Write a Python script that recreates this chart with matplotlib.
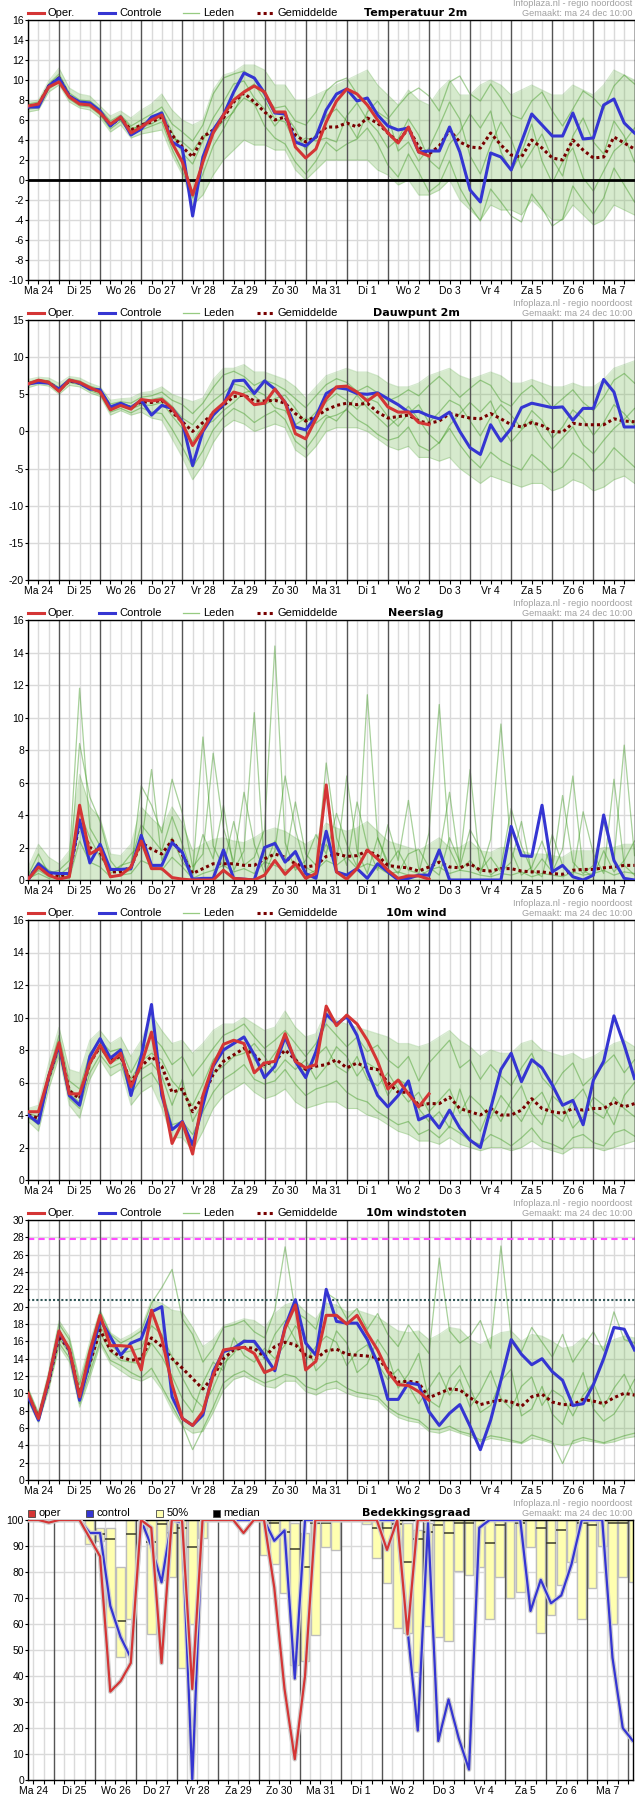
import matplotlib
matplotlib.use("Agg")
import matplotlib.pyplot as plt
from matplotlib.lines import Line2D
from matplotlib.patches import Rectangle
import matplotlib.patheffects as pe
import numpy as np

plt.rcParams['font.family'] = ['Liberation Sans', 'DejaVu Sans']

nan = np.nan
# 6-hourly steps, hours after Ma 24 00:00 (Ma 24 06:00 .. Di 8 00:00)
hours = np.arange(6, 361, 6)
cloud_hours = hours + 3
days = ["Ma 24", "Di 25", "Wo 26", "Do 27", "Vr 28", "Za 29", "Zo 30", "Ma 31",
        "Di 1", "Wo 2", "Do 3", "Vr 4", "Za 5", "Zo 6", "Ma 7"]

# ---- Temperatuur 2m
t_oper = [7.4, 7.6, 9.3, 9.8, 8.3, 7.6, 7.5, 6.7, 5.6, 6.3, 4.7, 5.3, 6.0, 6.5, 3.7, 1.8, -1.5, 1.8, 4.7, 6.5,
          8.0, 8.8, 9.4, 8.8, 6.8, 6.8, 3.3, 2.2, 3.1, 5.8, 7.9, 9.1, 8.6, 7.5, 6.0, 4.7, 3.7, 5.3, 2.8, 2.4]
t_ctrl = [7.3, 7.3, 9.4, 10.2, 8.4, 7.8, 7.7, 6.9, 5.4, 6.3, 4.5, 5.1, 6.3, 6.7, 3.8, 3.2, -3.6, 2.3, 5.0, 6.5,
          8.8, 10.7, 10.2, 8.7, 6.7, 6.6, 3.8, 3.4, 4.3, 7.0, 8.6, 9.1, 7.9, 8.2, 6.5, 5.4, 5.0, 5.2, 2.8, 2.9,
          2.9, 5.3, 2.8, -1.0, -2.2, 2.7, 2.3, 1.0, 3.8, 6.6, 5.5, 4.4, 4.4, 6.7, 4.1, 4.2, 7.5, 8.1, 5.7, 4.7]
t_mean = [7.3, 7.5, 9.4, 10.2, 8.4, 7.7, 7.6, 6.8, 5.5, 6.2, 5.0, 5.5, 5.8, 6.3, 4.5, 3.3, 2.3, 4.3, 5.0, 6.2,
          7.8, 8.7, 7.8, 6.8, 6.0, 6.3, 4.5, 3.8, 4.3, 5.3, 5.3, 5.7, 5.3, 6.2, 5.7, 4.7, 3.8, 5.2, 3.3, 2.6,
          3.4, 5.0, 3.8, 3.3, 3.2, 4.7, 3.5, 2.5, 2.3, 4.0, 3.2, 2.2, 2.0, 4.0, 3.0, 2.2, 2.3, 4.3, 3.7, 3.1]
t_lo = [6.8, 7.0, 8.8, 9.5, 7.8, 7.2, 7.0, 6.2, 4.8, 5.5, 4.2, 4.6, 4.8, 5.0, 2.5, 0.5, -2.5, -1.5, 0.5, 2.0,
        3.0, 4.0, 3.5, 3.5, 3.0, 3.0, 1.0, 0.0, 1.0, 2.0, 2.0, 2.0, 2.0, 2.0, 1.0, 0.5, -0.5, 0.0, -1.5, -1.5,
        -1.0, 0.0, -2.0, -3.0, -4.0, -2.5, -3.0, -3.0, -3.5, -2.0, -3.0, -4.0, -4.0, -2.5, -3.5, -4.5, -4.0, -2.5, -3.0, -3.5]
t_hi = [7.8, 8.0, 9.9, 11.2, 9.2, 8.6, 8.4, 7.4, 6.4, 6.9, 6.2, 7.0, 7.6, 8.6, 7.0, 6.0, 5.5, 6.0, 9.0, 10.5,
        10.8, 11.5, 11.5, 11.0, 9.5, 9.5, 8.0, 8.0, 8.5, 9.0, 9.5, 10.0, 10.5, 11.0, 9.5, 8.5, 7.5, 9.0, 8.0, 7.5,
        9.0, 10.0, 8.5, 8.5, 9.5, 10.0, 9.5, 8.5, 9.0, 9.5, 9.0, 8.5, 8.5, 9.5, 9.0, 8.5, 9.5, 11.0, 10.5, 10.0]
t_m1 = [7.6, 7.8, 9.6, 10.6, 8.7, 8.0, 7.9, 7.1, 5.9, 6.5, 5.4, 6.0, 6.6, 7.3, 5.6, 4.8, 3.9, 5.5, 8.6, 10.2,
        10.6, 10.9, 10.1, 8.4, 7.2, 7.4, 5.9, 5.5, 6.8, 8.9, 9.8, 10.2, 8.6, 7.4, 6.8, 6.1, 7.4, 8.6, 9.2, 8.4,
        6.9, 9.8, 10.4, 8.6, 7.9, 9.6, 8.2, 6.5, 6.1, 7.9, 8.8, 6.9, 5.4, 7.1, 8.9, 8.2, 7.1, 9.4, 10.5, 9.6]
t_m2 = [7.1, 7.2, 9.1, 9.8, 8.1, 7.4, 7.3, 6.5, 5.1, 5.9, 4.6, 5.0, 5.4, 5.8, 3.1, 0.9, -1.8, 0.6, 3.4, 5.1,
        7.0, 8.2, 7.6, 5.4, 4.2, 3.6, 1.8, 0.6, 1.9, 3.8, 2.9, 3.6, 4.1, 5.2, 3.6, 1.5, 0.3, 2.6, 0.8, -1.2,
        -0.4, 1.9, -0.8, -2.6, -4.1, -0.9, -2.2, -3.6, -4.2, -1.4, -2.8, -4.6, -3.9, -0.6, -2.1, -3.4, -1.8, 1.2, -0.5, -2.2]
t_m3 = [7.3, 7.5, 9.3, 10.1, 8.3, 7.8, 7.5, 6.8, 5.7, 6.0, 4.9, 5.6, 6.1, 6.9, 4.8, 2.7, 1.6, 3.9, 6.2, 7.8,
        9.6, 9.9, 8.2, 7.1, 5.4, 6.6, 5.1, 3.0, 4.6, 6.4, 7.1, 5.9, 4.2, 6.8, 7.9, 6.4, 2.9, 3.8, 1.9, 3.2,
        5.4, 7.8, 6.1, 2.4, 0.6, 3.5, 5.8, 4.1, 1.2, 2.9, 4.6, 2.1, 0.4, 4.4, 6.2, 3.8, 2.6, 5.9, 4.4, 1.8]
t_m4 = [7.4, 7.4, 9.5, 10.4, 8.5, 7.5, 7.6, 6.6, 5.3, 6.4, 5.2, 5.3, 5.6, 6.2, 4.2, 3.8, 2.9, 4.4, 4.6, 5.9,
        6.8, 8.9, 9.6, 8.0, 6.1, 5.8, 3.6, 4.2, 3.9, 4.2, 3.8, 6.4, 7.7, 6.0, 4.9, 3.2, 4.1, 6.1, 4.5, 2.0,
        1.1, 3.6, 4.8, 6.6, 5.2, 6.9, 2.8, 0.9, 2.7, 5.6, 1.9, -0.3, 1.8, 3.2, 0.2, -1.1, 0.9, 2.9, 3.8, 5.2]

# ---- Dauwpunt 2m
d_oper = [6.4, 6.9, 6.6, 5.4, 6.9, 6.6, 5.9, 5.3, 2.9, 3.5, 3.0, 4.3, 4.1, 4.3, 3.1, 1.1, -1.9, 0.2, 2.6, 3.8,
          5.3, 4.9, 3.6, 3.8, 5.7, 3.9, -0.3, -1.0, 1.7, 4.4, 6.0, 6.1, 5.3, 4.1, 5.1, 3.3, 2.6, 2.6, 1.2, 0.9]
d_ctrl = [6.4, 6.6, 6.5, 5.7, 6.9, 6.5, 5.7, 5.6, 3.3, 3.8, 3.2, 4.2, 2.2, 3.5, 3.1, 1.3, -4.6, 0.0, 2.2, 3.6,
          6.8, 6.9, 5.1, 6.8, 5.7, 3.9, 0.6, 0.2, 2.0, 5.1, 5.9, 5.7, 5.1, 5.0, 5.2, 4.4, 3.6, 2.6, 2.7, 2.1,
          1.7, 2.6, 0.0, -2.2, -3.1, 0.9, -1.3, 0.4, 3.2, 3.8, 3.5, 3.2, 3.3, 1.5, 3.1, 3.1, 7.0, 5.3, 0.6, 0.6]
d_mean = [6.4, 6.8, 6.6, 5.6, 6.8, 6.5, 5.8, 5.4, 3.3, 3.6, 3.2, 4.0, 3.9, 4.2, 2.6, 1.3, 0.0, 1.2, 2.4, 3.5,
          4.7, 4.9, 4.1, 4.1, 4.2, 3.8, 2.4, 1.4, 2.0, 2.9, 3.5, 3.8, 3.6, 3.8, 2.6, 1.8, 2.0, 2.2, 1.4, 1.1,
          1.4, 2.4, 2.1, 1.8, 1.7, 2.4, 1.7, 0.9, 0.6, 1.2, 0.8, 0.0, -0.1, 1.1, 0.9, 0.9, 0.9, 1.7, 1.4, 1.3]
d_lo = [5.9, 6.3, 6.1, 5.0, 6.2, 6.0, 5.2, 4.7, 2.2, 2.8, 2.2, 2.6, 1.8, 1.5, -1.0, -3.5, -6.5, -4.5, -1.5, 0.5,
        1.5, 1.0, 0.0, 0.5, 1.0, 0.5, -2.5, -3.5, -2.0, 0.0, 0.5, 0.5, 0.5, 0.0, -1.0, -2.0, -2.5, -2.0, -3.5, -3.5,
        -4.0, -3.5, -5.0, -6.0, -7.0, -6.0, -6.5, -7.0, -7.5, -7.0, -7.0, -8.0, -7.5, -6.5, -7.0, -8.0, -7.5, -6.5, -6.0, -7.0]
d_hi = [7.0, 7.3, 7.2, 6.5, 7.4, 7.2, 6.5, 6.0, 4.2, 4.4, 4.5, 5.2, 5.4, 6.0, 5.0, 4.5, 4.0, 4.5, 7.0, 8.5,
        8.5, 9.0, 8.0, 8.0, 7.5, 7.0, 6.0, 4.5, 6.0, 7.5, 8.0, 8.5, 8.0, 8.0, 7.5, 6.5, 6.0, 6.0, 6.5, 7.5,
        8.0, 8.5, 7.5, 7.0, 7.5, 8.0, 7.5, 6.5, 6.5, 7.0, 6.5, 6.0, 6.0, 6.5, 6.0, 6.0, 7.0, 8.5, 9.0, 9.5]
d_m1 = [6.6, 7.0, 6.8, 5.9, 7.1, 6.8, 6.1, 5.7, 3.7, 4.0, 3.8, 4.6, 4.8, 5.3, 4.2, 3.6, 2.4, 3.8, 5.9, 7.6,
        8.1, 7.4, 6.2, 6.9, 6.4, 5.6, 4.4, 3.2, 4.8, 6.3, 7.1, 6.6, 5.4, 6.1, 5.2, 4.1, 4.7, 5.6, 4.8, 6.2,
        7.4, 6.1, 4.6, 5.8, 6.9, 6.2, 4.1, 3.4, 5.1, 6.2, 4.8, 3.2, 4.4, 5.6, 3.9, 2.8, 4.6, 6.9, 7.8, 6.5]
d_m2 = [6.2, 6.6, 6.4, 5.3, 6.6, 6.3, 5.5, 5.0, 2.6, 3.1, 2.5, 3.2, 2.6, 2.4, 0.3, -2.1, -4.8, -2.6, 0.2, 1.9,
        3.1, 2.4, 1.2, 2.1, 2.8, 1.6, -1.3, -2.4, -0.5, 1.8, 2.2, 2.9, 1.6, 0.8, -0.4, -1.2, -0.8, 0.6, -1.9, -2.6,
        -1.5, 0.4, -1.8, -3.6, -4.9, -2.8, -3.9, -4.6, -5.2, -3.1, -4.2, -5.6, -4.8, -2.9, -3.8, -5.4, -4.1, -2.2, -3.5, -4.8]
d_m3 = [6.4, 6.8, 6.6, 5.6, 6.8, 6.6, 5.8, 5.4, 3.2, 3.7, 3.4, 4.1, 4.3, 4.6, 3.4, 1.8, 0.9, 2.7, 4.1, 5.2,
        6.4, 6.0, 4.8, 3.6, 4.4, 4.9, 3.1, 1.2, 2.6, 4.0, 5.1, 4.2, 3.0, 4.5, 3.9, 2.0, 0.7, 2.4, 3.6, 1.2,
        2.6, 4.2, 3.5, 1.4, -0.6, 1.9, 3.6, 2.2, 0.4, 2.8, 1.5, -0.9, 0.6, 2.9, 1.7, -0.5, 1.2, 3.6, 2.4, 0.8]
d_m4 = [6.5, 6.7, 6.5, 5.5, 6.9, 6.4, 5.8, 5.3, 3.4, 3.4, 3.0, 3.6, 3.5, 3.9, 2.1, 0.4, -1.4, 0.8, 1.4, 2.8,
        3.9, 5.2, 5.6, 4.9, 3.2, 2.8, 0.9, 1.8, 1.1, 2.2, 1.4, 3.1, 4.9, 3.2, 1.9, 0.6, 1.8, 3.4, 1.6, -0.4,
        -1.6, 0.8, 2.4, 3.9, 2.6, 4.1, 0.9, -1.4, 0.2, 1.6, -0.8, -2.4, -0.9, 0.6, -1.8, -3.0, -1.2, 0.4, 1.6, 3.1]

# ---- Neerslag
p_oper = [0.05, 0.8, 0.3, 0.05, 0.2, 4.6, 1.6, 1.95, 0.2, 0.3, 0.8, 2.4, 0.7, 0.7, 0.15, 0.05, 0.0, 0.0, 0.0, 0.6,
          0.1, 0.05, 0.0, 0.3, 1.2, 0.35, 1.0, 0.1, 0.4, 5.85, 0.5, 0.05, 0.7, 1.85, 1.3, 0.6, 0.1, 0.25, 0.25, 0.05]
p_ctrl = [0.0, 1.0, 0.45, 0.4, 0.4, 3.7, 1.05, 2.2, 0.65, 0.65, 0.7, 2.75, 0.9, 0.9, 2.3, 1.7, 0.05, 0.1, 0.1, 1.85,
          0.1, 0.05, 0.0, 2.0, 2.25, 1.1, 1.75, 0.4, 0.1, 3.0, 0.5, 0.3, 0.7, 0.1, 1.0, 0.5, 0.0, 0.1, 0.3, 0.3,
          1.85, 0.0, 0.0, 0.0, 0.0, 0.0, 0.0, 3.3, 1.5, 1.45, 4.6, 0.5, 0.9, 0.2, 0.0, 0.3, 4.0, 1.2, 0.1, 0.0]
p_mean = [0.1, 0.9, 0.4, 0.2, 0.4, 3.5, 2.0, 1.7, 0.5, 0.5, 0.8, 2.3, 1.9, 1.6, 2.45, 1.55, 0.4, 0.7, 1.0, 1.0,
          1.0, 0.9, 0.9, 1.3, 1.6, 1.4, 1.0, 0.8, 0.9, 1.45, 1.6, 1.45, 1.5, 1.8, 1.5, 0.9, 0.8, 0.75, 0.55, 0.8,
          1.1, 0.8, 0.75, 1.0, 0.6, 0.55, 0.7, 0.7, 0.55, 0.5, 0.5, 0.4, 0.35, 0.6, 0.65, 0.65, 0.75, 0.8, 0.9, 0.9]
p_lo = [0.0] * 60
p_hi = [0.8, 2.2, 1.4, 1.0, 1.8, 6.5, 4.5, 3.8, 1.6, 1.5, 2.2, 4.5, 3.8, 3.2, 4.5, 3.5, 1.8, 2.2, 2.5, 2.6,
        2.4, 2.3, 2.6, 3.0, 3.2, 3.0, 2.6, 2.2, 2.6, 3.5, 3.2, 3.0, 3.2, 3.6, 3.0, 2.4, 2.2, 2.0, 1.8, 2.2,
        2.6, 2.0, 2.0, 2.4, 1.8, 1.7, 2.0, 2.0, 1.8, 1.6, 1.6, 1.5, 1.4, 1.8, 1.8, 1.8, 2.0, 2.0, 2.2, 2.2]
p_m1 = [0.3, 1.6, 0.4, 0.6, 1.2, 11.8, 3.2, 2.1, 0.4, 0.9, 1.1, 3.4, 2.6, 1.8, 3.9, 2.2, 0.3, 8.8, 2.1, 0.8,
        3.6, 0.9, 1.4, 3.1, 14.4, 2.3, 0.6, 1.2, 2.8, 1.6, 4.1, 2.2, 0.8, 11.4, 2.6, 0.9, 1.8, 0.6, 0.4, 2.9,
        10.8, 1.9, 0.6, 1.2, 0.4, 2.5, 9.6, 1.8, 0.3, 0.8, 2.4, 0.6, 5.2, 1.1, 0.4, 0.9, 3.6, 1.2, 8.3, 1.5]
p_m2 = [0.0, 0.6, 0.2, 0.1, 0.3, 8.4, 5.1, 3.6, 1.2, 0.4, 0.6, 5.8, 4.6, 2.9, 6.2, 4.1, 0.8, 1.6, 7.8, 3.2,
        1.1, 5.4, 2.2, 0.4, 1.8, 6.4, 3.1, 0.8, 0.4, 7.2, 2.6, 0.9, 4.8, 2.1, 0.6, 3.4, 1.2, 4.9, 0.7, 0.2,
        1.6, 5.4, 0.8, 3.1, 1.9, 0.3, 0.8, 4.4, 2.1, 0.6, 0.2, 2.8, 0.9, 0.3, 4.2, 1.6, 0.4, 6.2, 0.9, 0.3]
p_m3 = [0.1, 0.4, 0.1, 0.2, 0.1, 2.4, 1.1, 0.8, 0.2, 0.3, 0.4, 1.2, 0.9, 0.6, 1.4, 0.8, 0.1, 0.4, 0.6, 0.9,
        0.5, 0.7, 0.4, 1.1, 0.9, 0.6, 0.8, 0.3, 0.6, 1.2, 0.9, 1.4, 0.7, 1.0, 0.8, 0.4, 0.5, 0.3, 0.2, 0.6,
        0.8, 0.4, 0.6, 0.5, 0.3, 0.2, 0.4, 0.3, 0.5, 0.2, 0.4, 0.3, 0.2, 0.5, 0.3, 0.4, 0.6, 0.3, 0.5, 0.4]
p_m4 = [0.2, 1.1, 0.6, 0.3, 0.8, 4.2, 2.6, 1.4, 0.6, 0.8, 1.6, 2.2, 6.8, 1.2, 2.6, 1.1, 0.4, 2.8, 1.3, 4.6,
        0.6, 1.8, 10.3, 0.8, 2.4, 1.2, 4.8, 1.6, 0.9, 2.2, 1.1, 6.4, 1.8, 0.4, 2.6, 1.1, 0.4, 1.6, 1.9, 0.8,
        0.3, 2.6, 1.1, 6.8, 0.6, 1.4, 0.5, 1.1, 3.6, 0.4, 1.3, 0.5, 1.9, 6.4, 0.6, 0.2, 1.8, 0.5, 1.2, 2.4]

# ---- 10m wind
w_oper = [4.2, 4.2, 6.4, 8.45, 5.3, 5.3, 7.2, 8.3, 7.2, 7.8, 5.75, 7.1, 9.1, 5.6, 2.25, 3.55, 1.6, 5.2, 7.1, 8.35,
          8.6, 8.4, 6.6, 7.2, 7.3, 9.0, 7.3, 6.9, 7.1, 10.7, 9.5, 10.15, 9.6, 8.6, 7.3, 5.6, 6.15, 5.3, 4.5, 5.3]
w_ctrl = [4.0, 3.5, 6.4, 8.3, 5.2, 4.6, 7.6, 8.7, 7.5, 8.0, 5.2, 7.6, 10.8, 5.2, 3.1, 3.6, 2.15, 4.6, 7.0, 8.0,
          8.4, 8.8, 7.7, 6.3, 7.0, 8.8, 7.3, 6.3, 7.9, 10.2, 9.6, 10.05, 8.9, 6.7, 5.2, 4.5, 5.2, 6.1, 3.7, 4.0,
          3.2, 4.3, 3.2, 2.45, 2.0, 4.4, 6.8, 7.8, 6.05, 7.4, 6.9, 5.85, 4.6, 4.9, 3.4, 6.15, 7.3, 10.1, 8.3, 6.25]
w_mean = [4.0, 3.8, 6.3, 8.3, 5.5, 5.0, 7.2, 8.2, 7.4, 7.6, 6.0, 7.0, 7.6, 7.0, 5.4, 5.6, 4.2, 5.1, 6.5, 7.3,
          7.7, 8.1, 7.7, 7.1, 7.3, 8.0, 7.4, 6.8, 7.0, 7.1, 7.4, 6.9, 7.2, 6.9, 6.8, 6.0, 5.4, 5.4, 4.6, 4.7,
          4.7, 5.1, 4.4, 4.2, 4.0, 4.4, 4.0, 4.0, 4.3, 5.0, 4.4, 4.2, 4.1, 4.4, 4.3, 4.4, 4.4, 4.8, 4.5, 4.7]
w_lo = [3.6, 3.0, 5.6, 7.6, 4.6, 3.8, 6.2, 7.4, 6.4, 6.8, 4.6, 5.4, 5.8, 4.4, 2.6, 2.6, 1.8, 3.0, 4.4, 5.2,
        5.6, 6.0, 5.4, 5.0, 5.2, 5.6, 4.8, 4.4, 4.6, 4.8, 4.8, 4.4, 4.4, 4.0, 3.8, 3.4, 3.0, 2.8, 2.4, 2.4,
        2.2, 2.6, 2.2, 2.0, 1.8, 2.0, 2.0, 1.8, 2.0, 2.4, 2.0, 1.8, 1.6, 2.0, 2.0, 2.0, 1.8, 2.0, 2.2, 2.4]
w_hi = [4.4, 4.6, 7.2, 9.4, 6.8, 6.6, 8.6, 9.2, 8.4, 8.8, 7.6, 8.6, 10.2, 9.2, 8.4, 8.6, 7.8, 8.4, 9.2, 9.6,
        9.6, 10.0, 9.6, 9.2, 9.4, 10.4, 9.4, 8.8, 9.0, 10.4, 9.8, 9.6, 9.4, 9.2, 9.0, 8.8, 8.4, 8.4, 8.2, 8.4,
        8.8, 9.2, 8.6, 8.2, 7.6, 8.0, 7.8, 7.8, 8.4, 8.6, 8.0, 7.8, 7.6, 7.8, 7.4, 7.6, 8.0, 8.4, 8.6, 8.2]
w_m1 = [4.1, 3.9, 6.6, 8.9, 6.1, 5.6, 7.8, 8.6, 7.9, 8.1, 6.6, 7.8, 8.9, 8.2, 7.1, 7.6, 6.4, 7.2, 8.1, 8.9,
        9.2, 9.6, 8.8, 8.1, 8.6, 9.2, 8.4, 7.6, 8.4, 9.6, 8.9, 8.2, 8.8, 7.9, 8.3, 7.4, 6.9, 7.6, 6.1, 7.2,
        7.9, 8.6, 6.9, 7.4, 6.2, 7.1, 6.4, 5.8, 6.9, 7.8, 6.3, 5.6, 6.6, 7.2, 5.8, 6.4, 7.1, 7.7, 6.6, 7.4]
w_m2 = [3.9, 3.4, 6.0, 7.9, 5.0, 4.4, 6.6, 7.7, 6.9, 7.2, 5.3, 6.2, 6.6, 5.6, 3.4, 3.6, 2.8, 4.2, 5.4, 6.2,
        6.6, 7.1, 6.2, 5.9, 6.1, 6.8, 5.9, 5.2, 5.6, 5.8, 6.1, 5.4, 5.0, 4.8, 4.2, 3.8, 3.4, 3.6, 2.8, 3.1,
        2.6, 3.3, 2.9, 2.4, 2.2, 2.8, 2.5, 2.1, 2.6, 3.2, 2.4, 2.2, 1.9, 2.6, 2.8, 2.3, 2.1, 2.9, 3.1, 2.7]
w_m3 = [4.0, 3.7, 6.2, 8.2, 5.6, 5.1, 7.4, 8.1, 7.2, 7.5, 6.2, 7.3, 7.8, 7.4, 6.1, 5.4, 4.6, 5.9, 7.4, 8.0,
        8.4, 8.8, 7.4, 6.9, 7.8, 8.6, 7.6, 6.4, 7.6, 8.2, 7.0, 6.6, 7.6, 6.2, 5.8, 6.6, 5.6, 4.8, 5.4, 4.2,
        4.9, 5.6, 4.1, 5.2, 4.6, 3.8, 5.2, 4.4, 3.6, 4.8, 5.4, 4.1, 3.6, 4.9, 5.6, 4.2, 3.8, 5.1, 4.4, 3.9]
w_m4 = [3.8, 3.6, 6.4, 8.6, 5.3, 4.8, 7.0, 8.4, 7.6, 7.9, 5.8, 6.8, 7.2, 6.4, 4.6, 6.2, 3.6, 4.8, 6.6, 7.0,
        7.6, 7.8, 8.4, 7.6, 6.6, 7.4, 6.8, 7.4, 6.2, 7.0, 8.2, 7.6, 6.4, 7.2, 6.8, 5.2, 6.2, 5.8, 4.4, 3.6,
        4.2, 3.2, 5.6, 3.8, 3.0, 4.6, 3.6, 4.9, 5.8, 4.1, 3.4, 5.2, 4.6, 3.2, 3.9, 5.1, 4.6, 3.4, 5.2, 6.0]

# ---- 10m windstoten
g_oper = [10.0, 7.1, 11.7, 17.2, 15.1, 9.6, 14.8, 19.0, 15.5, 15.5, 15.4, 12.7, 19.6, 16.3, 11.0, 7.1, 6.3, 7.9, 12.1, 15.0,
          15.2, 15.3, 14.6, 12.4, 12.9, 17.5, 20.2, 12.7, 13.7, 19.0, 19.0, 18.0, 19.0, 16.9, 15.0, 12.5, 11.0, 10.9, 10.2, 9.2]
g_ctrl = [9.6, 6.9, 11.5, 17.1, 15.0, 9.2, 13.8, 18.5, 16.5, 14.4, 15.8, 16.3, 19.4, 20.0, 9.6, 7.1, 6.3, 7.5, 12.5, 14.8,
          15.2, 16.0, 16.0, 14.4, 12.6, 17.7, 20.8, 15.8, 14.4, 22.0, 18.3, 18.1, 18.1, 16.2, 13.5, 9.3, 9.3, 11.2, 11.0, 7.9,
          6.3, 7.7, 8.7, 6.2, 3.5, 6.9, 11.5, 16.2, 14.5, 13.3, 14.0, 12.5, 11.5, 8.6, 8.8, 11.0, 14.0, 17.6, 17.4, 15.0]
g_mean = [9.8, 7.2, 11.3, 16.6, 15.0, 9.8, 13.5, 17.3, 15.0, 14.2, 13.8, 14.0, 16.4, 15.4, 14.0, 12.9, 11.7, 10.5, 11.9, 14.0,
          15.0, 15.3, 15.2, 14.2, 15.4, 15.9, 15.6, 14.4, 14.0, 14.9, 15.1, 14.5, 14.4, 14.3, 14.1, 12.7, 11.3, 11.4, 11.2, 9.5,
          10.0, 10.5, 10.4, 9.5, 8.7, 9.0, 9.2, 9.0, 8.5, 9.6, 9.9, 9.0, 8.7, 8.7, 9.3, 9.1, 8.8, 9.5, 10.0, 9.8]
g_lo = [9.0, 6.6, 10.4, 15.4, 13.6, 8.4, 11.8, 15.6, 13.4, 12.6, 11.8, 11.4, 12.0, 10.4, 8.0, 6.2, 5.4, 5.6, 7.8, 10.4,
        11.6, 12.0, 11.4, 10.8, 10.6, 11.4, 11.4, 10.2, 9.8, 10.4, 10.6, 10.0, 9.6, 9.4, 9.2, 8.0, 7.2, 6.8, 6.6, 5.6,
        5.4, 5.8, 5.4, 5.0, 4.4, 4.8, 4.6, 4.4, 4.2, 4.8, 4.6, 4.2, 4.0, 4.2, 4.6, 4.4, 4.2, 4.4, 4.8, 5.0]
g_hi = [10.6, 7.8, 12.6, 18.4, 16.6, 11.6, 16.0, 19.6, 17.0, 16.2, 16.8, 17.6, 20.8, 20.4, 19.6, 19.4, 17.6, 15.4, 16.2, 17.8,
        18.2, 18.6, 18.4, 17.6, 19.2, 20.2, 20.6, 19.4, 18.6, 20.4, 20.2, 19.4, 19.6, 19.2, 18.8, 18.0, 17.2, 17.0, 17.2, 16.2,
        16.8, 17.6, 17.4, 16.2, 15.6, 16.4, 17.0, 17.2, 16.0, 16.8, 16.6, 16.0, 15.2, 15.4, 16.4, 15.6, 15.4, 16.2, 16.6, 16.4]
g_m1 = [10.4, 7.6, 12.2, 18.0, 16.2, 11.0, 15.4, 19.4, 16.8, 15.8, 16.4, 17.2, 20.4, 22.2, 24.3, 18.6, 16.8, 13.6, 15.2, 17.6,
        17.9, 18.4, 17.1, 16.4, 19.6, 26.9, 19.4, 18.6, 17.4, 21.6, 20.8, 18.6, 19.8, 17.4, 19.2, 16.8, 15.4, 17.9, 16.2, 14.6,
        25.6, 17.2, 15.8, 16.6, 18.4, 15.2, 27.0, 16.4, 14.8, 17.6, 15.9, 14.2, 16.8, 13.6, 15.4, 17.1, 14.9, 19.4, 16.2, 15.8]
g_m2 = [9.3, 6.8, 10.8, 15.8, 14.1, 8.8, 12.4, 16.0, 13.8, 13.2, 12.4, 11.8, 12.9, 10.8, 8.6, 6.4, 3.5, 5.9, 8.4, 11.2,
        12.1, 12.6, 11.8, 11.2, 11.6, 12.2, 11.9, 10.8, 10.4, 11.1, 11.4, 10.6, 10.1, 9.9, 9.6, 8.4, 7.6, 7.2, 6.9, 5.9,
        5.8, 6.2, 5.6, 5.3, 4.6, 5.1, 4.9, 4.6, 4.3, 5.2, 4.8, 4.4, 1.9, 4.5, 4.9, 4.6, 4.3, 4.7, 5.1, 5.4]
g_m3 = [9.8, 7.3, 11.6, 16.9, 15.4, 10.2, 14.2, 17.8, 15.6, 14.6, 14.9, 15.2, 17.8, 16.8, 14.2, 11.8, 9.6, 8.4, 10.6, 13.4,
        14.6, 16.2, 15.8, 13.9, 16.8, 18.4, 16.2, 13.8, 15.4, 16.6, 15.9, 13.2, 14.8, 15.6, 13.4, 11.6, 12.8, 10.9, 8.8, 10.6,
        12.4, 9.8, 11.6, 8.4, 10.2, 12.6, 9.4, 8.2, 10.8, 11.9, 8.6, 10.4, 9.6, 7.4, 9.8, 11.2, 8.4, 10.6, 12.2, 9.6]
g_m4 = [10.1, 7.0, 11.2, 16.4, 14.6, 9.6, 13.0, 17.0, 14.8, 13.8, 13.6, 13.4, 15.8, 14.2, 12.0, 9.4, 7.8, 11.2, 13.6, 12.6,
        16.4, 14.4, 13.6, 15.2, 14.0, 15.6, 17.8, 16.4, 12.6, 13.8, 17.2, 15.8, 12.4, 13.4, 16.2, 14.4, 10.6, 12.2, 14.6, 9.2,
        8.4, 11.8, 13.2, 10.6, 7.8, 8.6, 11.4, 12.8, 7.4, 8.2, 10.8, 7.6, 6.4, 9.8, 12.4, 8.2, 6.8, 7.6, 9.4, 11.6]
gust_warn = 27.8
gust_ref = 20.8

# ---- Bedekkingsgraad (%)
c_oper = [100, 100, 99, 100, 100, 100, 93, 86, 34, 38, 45, 100, 97, 45, 100, 100, 35, 100, 100, 100,
          100, 95, 100, 100, 74, 35, 8, 40, 100, 100, 100, 100, 100, 100, 100, 88.5, 100, 56, 100, 100]
c_ctrl = [100, 100, 100, 100, 100, 100, 95, 95, 67, 55, 47, 100, 90, 76, 100, 99, 0, 100, 100, 100,
          100, 100, 100, 100, 92, 96, 39, 100, 100, 100, 100, 100, 100, 100, 100, 100, 100, 58, 19, 99,
          15, 31, 16, 4, 97, 100, 100, 100, 100, 65, 77, 68, 71, 83, 100, 100, 100, 47, 20, 15]
c_q25 = [100, 100, 100, 100, 100, 100, 90.6, 92, 58.7, 47.4, 61.8, 100, 56, 77, 78, 43, 60, 93, 100, 100,
         100, 100, 100, 86.4, 83, 71.8, 44.2, 45.9, 55.8, 89.5, 88.5, 100, 100, 98.5, 85.3, 75.6, 58.3, 56.7, 41.7, 59.2,
         55.1, 53.5, 80.4, 78.8, 81.8, 61.9, 77.9, 69.9, 72.2, 89.5, 56.4, 63.5, 75, 83.7, 61.9, 73.7, 90, 60, 77.9, 76.3]
c_q75 = [100, 100, 100, 100, 100, 100, 100, 97, 97, 82, 100, 100, 100, 100, 100, 100, 100, 100, 100, 100,
         100, 100, 100, 100, 100, 100, 99, 95, 99, 100, 100, 100, 100, 100, 100, 100, 100, 99, 96, 99,
         100, 100, 100, 100, 100, 100, 100, 100, 100, 100, 100, 100, 100, 100, 100, 100, 100, 100, 100, 100]
c_med = [nan, nan, nan, nan, nan, nan, nan, 94.5, 92.6, 61, 94.5, nan, 91.4, 98.3, 94.9, 96.8, 89.5, nan, nan, nan,
         nan, nan, nan, nan, 98.7, 95.3, 88.7, 81.8, 98.7, 98.7, nan, nan, nan, nan, 96.8, 96.8, 98.3, 84, 92.6, 95.3,
         98, 94.9, 99, 99, nan, 91, 98, nan, 99, nan, 96.8, 91, 96.2, nan, 99, 98, nan, 99, 99, nan]

W, H = 635.0, 1800.0
fig = plt.figure(figsize=(6.35, 18), dpi=100)

RED = '#d43535'
BLUE = '#3535d2'
GREEN = '#3f9a22'
MEAN = '#780000'
GRID = '#dadada'


def fx(x):
    return x / W


def fy(y):
    return 1 - y / H


def header(top, title):
    fig.text(fx(416), fy(top - 7), title, ha='center', va='center',
             fontsize=8, fontweight='bold', family='DejaVu Sans')
    fig.text(fx(632), fy(top - 16), 'Infoplaza.nl - regio noordoost',
             ha='right', va='center', fontsize=6.6, color='#a0a0a0')
    fig.text(fx(632), fy(top - 7), 'Gemaakt: ma 24 dec 10:00',
             ha='right', va='center', fontsize=6.6, color='#a0a0a0')


def line_legend(top):
    y = fy(top - 7)
    items = [(28, RED, '-', 2.2, 1.0, 'Oper.'),
             (99, BLUE, '-', 2.2, 1.0, 'Controle'),
             (183, '#7cbf62', '-', 0.9, 0.8, 'Leden'),
             (257, MEAN, (0, (1, 1)), 2.2, 1.0, 'Gemiddelde')]
    for x0, c, ls, lw, a, lab in items:
        fig.add_artist(Line2D([fx(x0), fx(x0 + 16)], [y, y], color=c, ls=ls, lw=lw, alpha=a))
        fig.text(fx(x0 + 20), y, lab, ha='left', va='center', fontsize=8)


def make_axes(top, xmin, xmax, ymin, ymax, ystep, left=28.2, right=634.5):
    ax = fig.add_axes([fx(left), fy(top + 260), (right - left) / W, 260 / H])
    ax.set_xlim(xmin, xmax)
    ax.set_ylim(ymin, ymax)
    yt = np.arange(ymin, ymax + 0.01, ystep)
    ax.set_yticks(yt)
    ax.set_yticklabels(['%g' % v for v in yt])
    for v in yt:
        ax.axhline(v, color=GRID, lw=1, zorder=0)
    ticks = [h for h in range(0, 372, 6) if xmin - 0.01 <= h <= xmax + 0.01]
    for h in ticks:
        if h % 24 == 0:
            ax.axvline(h, color='#555555', lw=1, zorder=1.5)
        else:
            ax.axvline(h, color=GRID, lw=1, zorder=0)
    ax.set_xticks(ticks)
    ax.set_xticklabels([days[(h - 12) // 24] if h % 24 == 12 else '' for h in ticks])
    ax.tick_params(axis='x', direction='out', length=3, width=0.8, labelsize=7.5, pad=1.5)
    ax.tick_params(axis='y', direction='out', length=2.5, width=0.8, labelsize=7.5, pad=0.6)
    for s in ax.spines.values():
        s.set_color('black')
        s.set_linewidth(1)
    return ax


def ensemble_panel(top, ymin, ymax, ystep, title, lo, hi, members, mean, oper, ctrl):
    ax = make_axes(top, 6, 360, ymin, ymax, ystep)
    header(top, title)
    line_legend(top)
    ax.fill_between(hours, lo, hi, color='#6cb64c', alpha=0.28, lw=0, zorder=1)
    for m in [lo, hi]:
        ax.plot(hours, m, color=GREEN, lw=0.8, alpha=0.22, zorder=1.1)
    for m in members:
        ax.plot(hours, m, color=GREEN, lw=0.9, alpha=0.45, zorder=1.2)
    ax.plot(hours, mean, color=MEAN, lw=2.2, ls=(0, (1, 1)), zorder=3)
    ax.plot(hours, ctrl, color=BLUE, lw=2.2, zorder=4)
    ax.plot(hours[:len(oper)], oper, color=RED, lw=2.2, zorder=5)
    return ax


ax1 = ensemble_panel(20, -10, 16, 2, 'Temperatuur 2m', t_lo, t_hi,
                     [t_m1, t_m2, t_m3, t_m4], t_mean, t_oper, t_ctrl)
ax1.axhline(0, color='black', lw=2, zorder=1.6)

ensemble_panel(320, -20, 15, 5, 'Dauwpunt 2m', d_lo, d_hi,
               [d_m1, d_m2, d_m3, d_m4], d_mean, d_oper, d_ctrl)

ensemble_panel(620, 0, 16, 2, 'Neerslag', p_lo, p_hi,
               [p_m1, p_m2, p_m3, p_m4], p_mean, p_oper, p_ctrl)

ensemble_panel(920, 0, 16, 2, '10m wind', w_lo, w_hi,
               [w_m1, w_m2, w_m3, w_m4], w_mean, w_oper, w_ctrl)

ax5 = ensemble_panel(1220, 0, 30, 2, '10m windstoten', g_lo, g_hi,
                     [g_m1, g_m2, g_m3, g_m4], g_mean, g_oper, g_ctrl)
ax5.axhline(gust_warn, color='#ff4dff', lw=1.5, ls=(0, (3, 2)), zorder=2)
ax5.axhline(gust_ref, color='#2f5555', lw=1.5, ls=(0, (1, 1)), zorder=2)

# ---- cloud cover panel
top = 1520
ax6 = make_axes(top, 9, 363, 0, 100, 10, left=28.3, right=633)
header(top, 'Bedekkingsgraad')
ly = fy(top - 7)
for x0, c, lab in [(28, RED, 'oper'), (86, BLUE, 'control'), (156, '#ffffb0', '50%'), (213, '#000000', 'median')]:
    fig.add_artist(Rectangle((fx(x0), ly - 3.5 / H), 7 / W, 7 / H, facecolor=c,
                             edgecolor='#444444', lw=0.6, transform=fig.transFigure))
    fig.text(fx(x0 + 10.5), ly, lab, ha='left', va='center', fontsize=8)

q25 = np.array(c_q25, dtype=float)
q75 = np.array(c_q75, dtype=float)
has_bar = q25 < 99.9
ax6.bar(cloud_hours[has_bar], (q75 - q25)[has_bar], bottom=q25[has_bar], width=5.2,
        color='#ffffb0', edgecolor='#bdbdbd', lw=1, zorder=1)
ax6.plot(cloud_hours, c_med, ls='none', marker='_', ms=6.5, mew=1.1, color='#3a3a2a', zorder=2)
halo = [pe.Stroke(linewidth=3.4, foreground='#cfcfcf'), pe.Normal()]
ax6.plot(cloud_hours, c_ctrl, color=BLUE, lw=1.6, zorder=4, path_effects=halo)
ax6.plot(cloud_hours[:len(c_oper)], c_oper, color=RED, lw=1.6, zorder=5, path_effects=halo)

fig.savefig('out.png', dpi=100)
